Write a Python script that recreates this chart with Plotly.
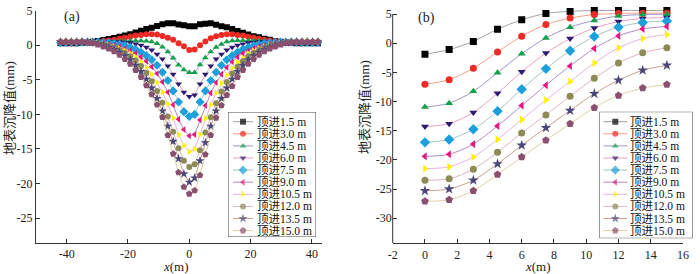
import plotly.graph_objects as go

W, H = 700, 274

names = ["顶进1.5 m", "顶进3.0 m", "顶进4.5 m", "顶进6.0 m", "顶进7.5 m",
         "顶进9.0 m", "顶进10.5 m", "顶进12.0 m", "顶进13.5 m", "顶进15.0 m"]
symbols = ["square", "circle", "triangle-up", "triangle-down", "diamond",
           "triangle-left", "triangle-right", "circle", "star", "pentagon"]
marker_colors = ["#000000", "#ee2a24", "#12a14a", "#2e1a6e", "#1ca0dc",
                 "#e6187d", "#fff200", "#8c8a55", "#4b4878", "#8b5070"]
line_colors = ["#a0a0a0", "#f4a08c", "#9f95cc", "#eb9ec4", "#a8c4c4",
               "#b48ac0", "#e4b4e8", "#dcb4c8", "#c8a08c", "#dcd0a4"]

# ---- panel (a): transverse settlement profiles ----
xa = [-42, -40.25, -38.5, -36.75, -35, -33.25, -31.5, -29.75, -28, -26.25,
      -24.5, -22.75, -21, -19.25, -17.5, -15.75, -14, -12.25, -10.5, -8.75,
      -7, -5.25, -3.5, -1.75, 0, 1.75, 3.5, 5.25, 7, 8.75, 10.5, 12.25, 14,
      15.75, 17.5, 19.25, 21, 22.75, 24.5, 26.25, 28, 29.75, 31.5, 33.25, 35,
      36.75, 38.5, 40.25, 42]

a1 = [0.3, 0.3, 0.3, 0.3, 0.35, 0.4, 0.5, 0.6, 0.75, 0.9, 1.05, 1.25, 1.4, 1.6, 1.85, 2.1, 2.35, 2.55, 2.8, 3.05, 3.2, 3.2, 3.0, 2.9,
      2.75, 2.75, 3.05, 3.1, 3.2, 2.95, 2.75, 2.6, 2.35, 2.05, 1.8, 1.55, 1.3, 1.15, 0.95, 0.8, 0.6, 0.5, 0.4, 0.35, 0.3, 0.3, 0.3, 0.3, 0.3]
a2 = [0.4, 0.4, 0.4, 0.4, 0.4, 0.4, 0.45, 0.5, 0.6, 0.7, 0.8, 0.95, 1.1, 1.25, 1.4, 1.5, 1.6, 1.6, 1.55, 1.35, 1.1, 0.8, 0.3, -0.15,
      -0.7, -0.6, 0.0, 0.55, 1.0, 1.3, 1.5, 1.6, 1.6, 1.5, 1.4, 1.25, 1.1, 0.95, 0.8, 0.7, 0.6, 0.5, 0.45, 0.4, 0.4, 0.4, 0.4, 0.4, 0.4]
a3 = [0.4, 0.4, 0.4, 0.4, 0.4, 0.4, 0.4, 0.45, 0.45, 0.5, 0.55, 0.6, 0.6, 0.65, 0.65, 0.65, 0.6, 0.5, 0.25, -0.25, -0.95, -1.85, -2.85, -3.55,
      -3.95, -3.95, -2.8, -1.8, -0.95, -0.3, 0.15, 0.5, 0.65, 0.7, 0.7, 0.7, 0.7, 0.65, 0.6, 0.55, 0.5, 0.45, 0.4, 0.4, 0.4, 0.4, 0.4, 0.4, 0.4]
a4 = [0.4, 0.4, 0.4, 0.4, 0.4, 0.4, 0.4, 0.45, 0.45, 0.5, 0.5, 0.5, 0.45, 0.35, 0.2, 0.0, -0.3, -0.7, -1.3, -2.0, -3.0, -4.2, -5.6, -6.8,
      -7.4, -7.2, -5.6, -4.2, -3.0, -2.0, -1.3, -0.7, -0.3, 0.0, 0.2, 0.35, 0.45, 0.5, 0.5, 0.5, 0.45, 0.45, 0.4, 0.4, 0.4, 0.4, 0.4, 0.4, 0.4]
a5 = [0.4, 0.4, 0.4, 0.4, 0.45, 0.45, 0.45, 0.45, 0.4, 0.35, 0.25, 0.1, -0.05, -0.3, -0.6, -1.0, -1.5, -2.1, -2.9, -3.9, -5.1, -6.6, -8.2, -9.6,
      -10.3, -10.0, -8.2, -6.6, -5.1, -3.9, -2.9, -2.1, -1.5, -1.0, -0.6, -0.3, -0.05, 0.1, 0.25, 0.35, 0.4, 0.45, 0.45, 0.45, 0.45, 0.4, 0.4, 0.4, 0.4]
a6 = [0.45, 0.45, 0.45, 0.45, 0.45, 0.45, 0.4, 0.35, 0.3, 0.15, 0.0, -0.2, -0.45, -0.8, -1.2, -1.7, -2.3, -3.1, -4.1, -5.3, -6.8, -8.6, -10.7, -12.2,
      -13.1, -12.9, -10.8, -8.7, -6.9, -5.4, -4.2, -3.2, -2.4, -1.7, -1.2, -0.8, -0.45, -0.2, 0.0, 0.15, 0.3, 0.35, 0.4, 0.45, 0.45, 0.45, 0.45, 0.45, 0.45]
a7 = [0.5, 0.5, 0.5, 0.5, 0.5, 0.45, 0.4, 0.3, 0.15, 0.0, -0.2, -0.45, -0.8, -1.2, -1.7, -2.4, -3.2, -4.2, -5.4, -6.8, -8.5, -10.5, -12.9, -14.5,
      -15.4, -15.0, -12.9, -10.6, -8.6, -6.9, -5.5, -4.3, -3.3, -2.5, -1.8, -1.2, -0.8, -0.45, -0.2, 0.0, 0.15, 0.3, 0.4, 0.45, 0.5, 0.5, 0.5, 0.5, 0.5]
a8 = [0.5, 0.5, 0.5, 0.5, 0.5, 0.45, 0.35, 0.25, 0.1, -0.1, -0.35, -0.7, -1.1, -1.6, -2.2, -3.0, -4.0, -5.2, -6.6, -8.3, -10.3, -12.5, -14.9, -16.7,
      -17.6, -17.2, -15.2, -12.6, -10.4, -8.4, -6.7, -5.3, -4.1, -3.1, -2.3, -1.6, -1.1, -0.7, -0.35, -0.1, 0.1, 0.25, 0.35, 0.45, 0.5, 0.5, 0.5, 0.5, 0.5]
a9 = [0.5, 0.5, 0.5, 0.5, 0.5, 0.45, 0.35, 0.2, 0.0, -0.3, -0.6, -1.0, -1.5, -2.1, -2.9, -3.8, -4.9, -6.2, -7.7, -9.5, -11.7, -13.9, -16.4, -18.6,
      -19.8, -19.2, -16.7, -14.1, -11.7, -9.5, -7.7, -6.2, -4.9, -3.8, -2.9, -2.1, -1.5, -1.0, -0.6, -0.3, 0.0, 0.2, 0.35, 0.45, 0.5, 0.5, 0.5, 0.5, 0.5]
a10 = [0.5, 0.5, 0.5, 0.5, 0.5, 0.4, 0.3, 0.1, -0.2, -0.5, -0.9, -1.4, -2.0, -2.7, -3.6, -4.6, -5.8, -7.1, -8.6, -10.4, -13.0, -15.7, -18.4, -20.5,
       -21.5, -21.0, -18.8, -15.8, -13.0, -10.5, -8.7, -7.2, -5.9, -4.6, -3.6, -2.7, -2.0, -1.4, -0.9, -0.5, -0.2, 0.1, 0.3, 0.4, 0.5, 0.5, 0.5, 0.5, 0.5]
series_a = [a1, a2, a3, a4, a5, a6, a7, a8, a9, a10]

# ---- panel (b): longitudinal settlement ----
xb = [0, 1.5, 3, 4.5, 6, 7.5, 9, 10.5, 12, 13.5, 15]
b1 = [-1.9, -1.1, 0.3, 2.4, 4.0, 5.1, 5.45, 5.6, 5.6, 5.6, 5.6]
b2 = [-7.05, -6.25, -4.3, -1.5, 1.2, 3.2, 4.3, 4.9, 5.1, 5.15, 5.15]
b3 = [-10.95, -10.3, -8.25, -5.05, -1.8, 0.9, 2.75, 3.9, 4.65, 4.9, 4.95]
b4 = [-14.3, -13.8, -11.9, -8.6, -4.9, -1.7, 0.8, 2.6, 3.7, 4.25, 4.4]
b5 = [-17.0, -16.5, -14.75, -11.65, -7.9, -4.4, -1.3, 1.15, 2.75, 3.55, 3.8]
b6 = [-19.4, -19.05, -17.3, -14.2, -10.7, -7.2, -3.9, -0.9, 1.25, 2.45, 2.85]
b7 = [-21.5, -21.2, -19.5, -16.5, -13.1, -9.75, -6.55, -3.4, -0.8, 0.8, 1.5]
b8 = [-23.5, -23.25, -21.6, -18.7, -15.4, -12.3, -9.1, -6.0, -3.4, -1.65, -0.8]
b9 = [-25.3, -25.0, -23.5, -20.7, -17.5, -14.5, -11.55, -8.65, -6.35, -4.65, -3.8]
b10 = [-27.1, -26.85, -25.3, -22.5, -19.5, -16.65, -13.8, -11.05, -8.95, -7.7, -7.1]
series_b = [b1, b2, b3, b4, b5, b6, b7, b8, b9, b10]

xa_ticks = [-40, -20, 0, 20, 40]
ya_ticks = [5, 0, -5, -10, -15, -20, -25]
xb_ticks = [-2, 0, 2, 4, 6, 8, 10, 12, 14, 16]
yb_ticks = [5, 0, -5, -10, -15, -20, -25, -30]

def lab(v):
    return str(v)

def px(x):
    return x / W

def py(y):
    return 1 - y / H

SERIF = "Liberation Serif, Noto Sans CJK SC, serif"
msize = [6, 6, 6, 6, 7, 6, 6, 6, 7, 7]

fig = go.Figure()

for i in range(10):
    fig.add_trace(go.Scatter(
        x=xa, y=series_a[i], mode="lines+markers", xaxis="x", yaxis="y",
        line=dict(color=line_colors[i], width=1),
        marker=dict(symbol=symbols[i], color=marker_colors[i], size=msize[i], line=dict(width=0)),
        showlegend=False, hoverinfo="skip"))
for i in range(10):
    fig.add_trace(go.Scatter(
        x=xb, y=series_b[i], mode="lines+markers", xaxis="x2", yaxis="y2",
        line=dict(color=line_colors[i], width=1, shape="spline", smoothing=0.8),
        marker=dict(symbol=symbols[i], color=marker_colors[i], size=msize[i] + 1, line=dict(width=0)),
        showlegend=False, hoverinfo="skip"))

annotations = []
shapes = []

# y axis line of panel (b) stops at the top tick (5), data may rise above it
shapes.append(dict(type="line", xref="x2 domain", yref="y2", x0=0, x1=0,
                   y0=-34.3, y1=yb_ticks[0], line=dict(color="#333", width=1)))

# custom legends (drawn in helper axes laid over the legend boxes)
legend_specs = [
    dict(xa="x3", ya="y3", w=88, h=125, y0=9.7, dy=12.1, lx=(5, 15, 25), tx=28),
    dict(xa="x4", ya="y4", w=93.4, h=126.6, y0=10.0, dy=12.1, lx=(4, 16, 28), tx=30),
]
for spec in legend_specs:
    shapes.append(dict(type="rect", xref=spec["xa"], yref=spec["ya"], x0=0, x1=spec["w"],
                       y0=0, y1=spec["h"], fillcolor="white", line=dict(color="#444", width=1),
                       layer="below"))
    for i in range(10):
        yy = spec["y0"] + spec["dy"] * i
        fig.add_trace(go.Scatter(
            x=list(spec["lx"]), y=[yy, yy, yy], mode="lines+markers",
            xaxis=spec["xa"], yaxis=spec["ya"],
            line=dict(color=line_colors[i], width=1),
            marker=dict(symbol=symbols[i], color=marker_colors[i],
                        size=[0, msize[i], 0], line=dict(width=0)),
            showlegend=False, hoverinfo="skip"))
        annotations.append(dict(xref=spec["xa"], yref=spec["ya"], x=spec["tx"], y=yy,
                                text=names[i], showarrow=False, xanchor="left", yanchor="middle",
                                borderpad=0,
                                font=dict(family=SERIF, size=11.5, color="#111")))

# axis titles and panel labels
annotations += [
    dict(xref="paper", yref="paper", x=px(10), y=py(108), text="地表沉降值(mm)", textangle=-90,
         showarrow=False, xanchor="center", yanchor="middle", font=dict(family=SERIF, size=13, color="#222")),
    dict(xref="paper", yref="paper", x=px(364), y=py(107), text="地表沉降值(mm)", textangle=-90,
         showarrow=False, xanchor="center", yanchor="middle", font=dict(family=SERIF, size=13, color="#222")),
    dict(xref="paper", yref="paper", x=px(176), y=py(266), text="<i>x</i>(m)",
         showarrow=False, xanchor="center", yanchor="middle", font=dict(family=SERIF, size=13, color="#222")),
    dict(xref="paper", yref="paper", x=px(538), y=py(266), text="<i>x</i>(m)",
         showarrow=False, xanchor="center", yanchor="middle", font=dict(family=SERIF, size=13, color="#222")),
    dict(xref="paper", yref="paper", x=px(72), y=py(17.5), text="(a)",
         showarrow=False, xanchor="center", yanchor="middle", font=dict(family=SERIF, size=14, color="#222")),
    dict(xref="paper", yref="paper", x=px(426), y=py(18), text="(b)",
         showarrow=False, xanchor="center", yanchor="middle", font=dict(family=SERIF, size=14, color="#222")),
]

axis_common = dict(showline=True, linecolor="#333", linewidth=1, ticks="inside", ticklen=4,
                   tickcolor="#333", showgrid=False, zeroline=False, mirror=False,
                   tickfont=dict(family=SERIF, size=12, color="#222"), automargin=False,
                   fixedrange=True)
hidden = dict(visible=False, showgrid=False, zeroline=False, fixedrange=True)

y2_common = dict(axis_common)
y2_common["showline"] = False

fig.update_layout(
    width=W, height=H,
    margin=dict(l=0, r=0, t=0, b=0),
    paper_bgcolor="white", plot_bgcolor="rgba(0,0,0,0)",
    showlegend=False,
    xaxis=dict(domain=[px(36), px(322)], range=[-50, 43.3], anchor="y",
               tickvals=xa_ticks, ticktext=[lab(v) for v in xa_ticks], **axis_common),
    yaxis=dict(domain=[py(243), py(10.7)], range=[-28.6, 5], anchor="x",
               tickvals=ya_ticks, ticktext=[lab(v) for v in ya_ticks], **axis_common),
    xaxis2=dict(domain=[px(392.7), px(683)], range=[-2, 16], anchor="y2",
                tickvals=xb_ticks, ticktext=[lab(v) for v in xb_ticks], **axis_common),
    yaxis2=dict(domain=[py(243.3), py(7.0)], range=[-34.3, 6.2], anchor="x2",
                tickvals=yb_ticks, ticktext=[lab(v) for v in yb_ticks], **y2_common),
    xaxis3=dict(domain=[px(228), px(316)], range=[0, 88], anchor="y3", **hidden),
    yaxis3=dict(domain=[py(237), py(112)], range=[125, 0], anchor="x3", **hidden),
    xaxis4=dict(domain=[px(599.3), px(692.7)], range=[0, 93.4], anchor="y4", **hidden),
    yaxis4=dict(domain=[py(238.3), py(111.7)], range=[126.6, 0], anchor="x4", **hidden),
    annotations=annotations,
    shapes=shapes,
)

fig.write_html("out.html", config={"displayModeBar": False, "staticPlot": True},
               post_script="document.body.style.margin='0';document.body.style.overflow='hidden';")
